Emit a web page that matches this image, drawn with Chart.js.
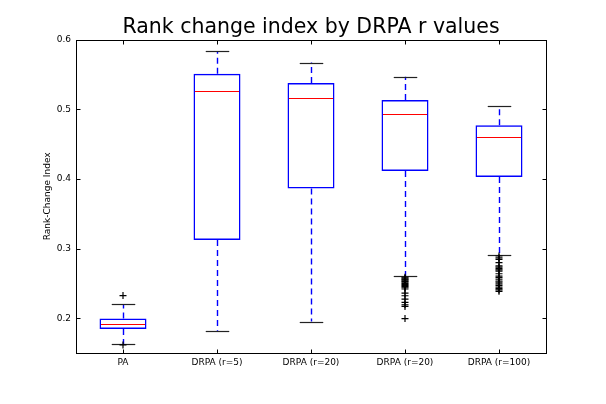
<!DOCTYPE html>
<html>
<head>
<meta charset="utf-8">
<script src="https://cdn.jsdelivr.net/npm/chart.js@4/dist/chart.umd.min.js"></script>
<style>
body { margin: 0; background: #fff; }
#wrap { width: 606px; height: 404px; }
</style>
</head>
<body>
<div id="wrap"><canvas id="boxChart"></canvas></div>
<script>
const categories = ['PA', 'DRPA (r=5)', 'DRPA (r=20)', 'DRPA (r=20)', 'DRPA (r=100)']
const whiskerLow = [0.163, 0.1818, 0.1952, 0.2602, 0.2913]
const boxLow = [0.1846, 0.3121, 0.3863, 0.4113, 0.4026]
const medians = [0.1914, 0.5263, 0.5157, 0.4936, 0.4602]
const boxHigh = [0.1995, 0.551, 0.5377, 0.5133, 0.4769]
const whiskerHigh = [0.220, 0.5837, 0.567, 0.5468, 0.5051]

const outliersPA = [0.2325, 0.1616]
const outliersR5 = []
const outliersR20a = []
const outliersR20b = [0.2588, 0.2575, 0.2562, 0.2551, 0.2537, 0.2524, 0.2509, 0.2496, 0.2481, 0.2466,
    0.2452, 0.2437, 0.2419, 0.2361, 0.2322, 0.2274, 0.2226, 0.2192, 0.2168, 0.1995]
const outliersR100 = [0.2893, 0.2866, 0.2843, 0.2797, 0.2751, 0.2733, 0.2712, 0.2694, 0.2677, 0.2638,
    0.2603, 0.2581, 0.2559, 0.2534, 0.2517, 0.2492, 0.2471, 0.2446, 0.2423, 0.2405, 0.2386]
const outliers = [outliersPA, outliersR5, outliersR20a, outliersR20b, outliersR100]

const yTicks = [0.2, 0.3, 0.4, 0.5, 0.6]
const xTicks = [1, 2, 3, 4, 5]

const font = 'DejaVu Sans'

function seg(ctx, x1, y1, x2, y2) {
    ctx.beginPath()
    ctx.moveTo(x1, y1)
    ctx.lineTo(x2, y2)
    ctx.stroke()
}
const crisp = v => Math.round(v) + 0.5

// whiskers + caps under the boxes, medians/frame/ticks on top
const boxParts = {
    id: 'boxParts',
    beforeDatasetsDraw(chart) {
        const { ctx, scales: { x, y } } = chart
        const bars = chart.getDatasetMeta(0).data
        ctx.save()
        categories.forEach((c, i) => {
            const px = crisp(x.getPixelForValue(i + 1))
            const half = bars[i].width / 4
            ctx.strokeStyle = '#0000ff'
            ctx.lineWidth = 1.4
            ctx.setLineDash([6, 4])
            seg(ctx, px, y.getPixelForValue(boxHigh[i]), px, y.getPixelForValue(whiskerHigh[i]))
            seg(ctx, px, y.getPixelForValue(boxLow[i]), px, y.getPixelForValue(whiskerLow[i]))
            ctx.setLineDash([])
            ctx.strokeStyle = '#222'
            ctx.lineWidth = 1.2
            const hi = crisp(y.getPixelForValue(whiskerHigh[i]))
            const lo = crisp(y.getPixelForValue(whiskerLow[i]))
            seg(ctx, px - half, hi, px + half, hi)
            seg(ctx, px - half, lo, px + half, lo)
        })
        ctx.restore()
    },
    afterDatasetsDraw(chart) {
        const { ctx, chartArea: a, scales: { x, y } } = chart
        const bars = chart.getDatasetMeta(0).data
        ctx.save()
        ctx.lineWidth = 1.2
        ctx.strokeStyle = '#ff0000'
        categories.forEach((c, i) => {
            const px = x.getPixelForValue(i + 1)
            const half = bars[i].width / 2
            const py = crisp(y.getPixelForValue(medians[i]))
            seg(ctx, px - half + 1.5, py, px + half - 1.5, py)
        })
        ctx.strokeStyle = 'black'
        ctx.lineWidth = 1
        const l = crisp(a.left), r = crisp(a.right), t = crisp(a.top), b = crisp(a.bottom)
        ctx.strokeRect(l, t, r - l, b - t)
        yTicks.forEach(v => {
            const py = crisp(y.getPixelForValue(v))
            seg(ctx, l, py, l + 4, py)
            seg(ctx, r, py, r - 4, py)
        })
        xTicks.forEach(v => {
            const px = crisp(x.getPixelForValue(v))
            seg(ctx, px, b, px, b - 4)
            seg(ctx, px, t, px, t + 4)
        })
        ctx.restore()
    }
}

const boxData = boxLow.map((v, i) => ({ x: i + 1, y: [v, boxHigh[i]] }))
const flierData = []
outliers.forEach((list, i) => list.forEach(v => flierData.push({ x: i + 1, y: v })))

new Chart(document.getElementById('boxChart'), {
    type: 'bar',
    data: {
        datasets: [{
            type: 'bar',
            data: boxData,
            backgroundColor: 'rgba(0,0,0,0)',
            borderColor: '#0000ff',
            borderWidth: 1.5,
            borderSkipped: false,
            barPercentage: 0.5,
            categoryPercentage: 1,
        }, {
            type: 'scatter',
            data: flierData,
            pointStyle: 'cross',
            pointRadius: 3.5,
            borderColor: 'black',
            borderWidth: 1.2,
        }]
    },
    options: {
        responsive: true,
        maintainAspectRatio: false,
        animation: false,
        layout: { padding: { left: 0, right: 60, top: 0, bottom: 0 } },
        plugins: {
            legend: { display: false },
            tooltip: { enabled: false },
            title: {
                display: true,
                fullSize: false,
                text: 'Rank change index by DRPA r values',
                color: 'black',
                font: { family: font, size: 20.5, weight: 'normal' },
                padding: { top: 15, bottom: 0 },
            },
        },
        scales: {
            x: {
                type: 'linear',
                min: 0.5,
                max: 5.5,
                offset: false,
                grid: { display: false, drawTicks: false },
                border: { display: false },
                afterBuildTicks: s => { s.ticks = xTicks.map(v => ({ value: v })) },
                afterFit: s => { s.height = 51 },
                ticks: {
                    padding: 4,
                    color: 'black',
                    maxRotation: 0,
                    autoSkip: false,
                    font: { family: font, size: 9 },
                    callback: v => categories[v - 1],
                },
            },
            y: {
                min: 0.15,
                max: 0.6,
                grid: { display: false, drawTicks: false },
                border: { display: false },
                afterBuildTicks: s => { s.ticks = yTicks.map(v => ({ value: v })) },
                afterFit: s => { s.width = 76 },
                title: {
                    display: true,
                    text: 'Rank-Change Index',
                    color: 'black',
                    font: { family: font, size: 9 },
                    padding: { top: 42, bottom: 0 },
                },
                ticks: {
                    padding: 5,
                    color: 'black',
                    font: { family: font, size: 9 },
                    callback: v => v.toFixed(1),
                },
            },
        },
    },
    plugins: [boxParts],
})
</script>
</body>
</html>
